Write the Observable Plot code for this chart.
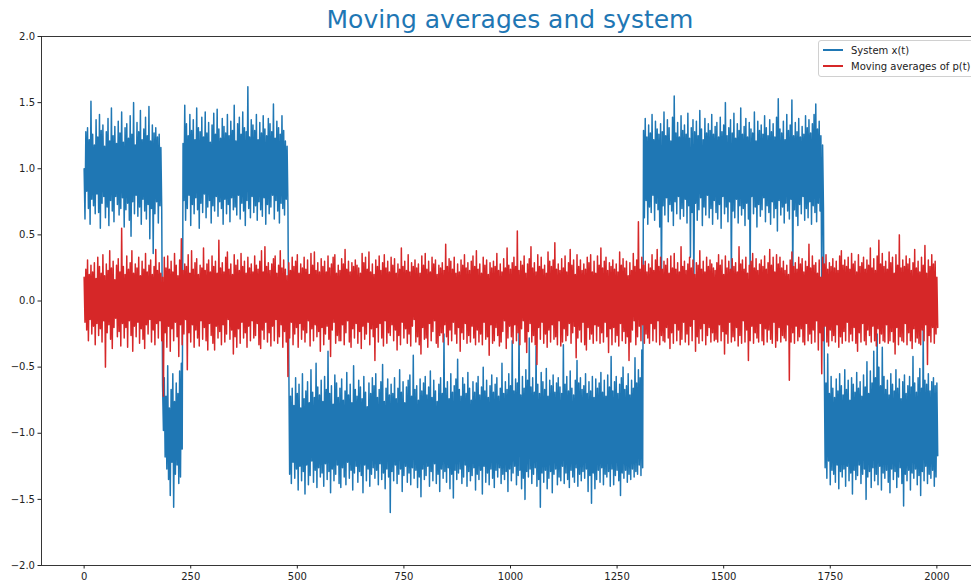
<!DOCTYPE html>
<html>
<head>
<meta charset="utf-8">
<script src="https://cdn.jsdelivr.net/npm/d3@7"></script>
<script src="https://cdn.jsdelivr.net/npm/@observablehq/plot@0.6"></script>
<style>
  html, body { margin: 0; padding: 0; background: #fff; overflow: hidden; }
  #wrap { position: relative; width: 971px; height: 587px; overflow: hidden; font-family: "DejaVu Sans", sans-serif; }
  #chart { position: absolute; left: 0; top: 0; width: 1000px; height: 587px; }
  #chart svg { max-width: none !important; width: 1000px !important; height: 587px !important; display: block; }
  #title { position: absolute; left: 0; width: 1020px; top: 5px; text-align: center; font-size: 25px; color: #1f77b4; line-height: 30px; }
  #legend { position: absolute; left: 818px; top: 40px; width: 170px; height: 35px; border: 1px solid #d0d0d0; border-radius: 3px; background: rgba(255,255,255,0.85); font-size: 10px; color: #222; }
  .row { position: absolute; left: 4px; height: 14px; display: flex; align-items: center; white-space: nowrap; }
  .sw { width: 20px; height: 1.5px; margin-right: 8px; }
</style>
</head>
<body>
<div id="wrap">
  <div id="chart"></div>
  <div id="title">Moving averages and system</div>
  <div id="legend"></div>
</div>
<script>
// Both signals are stored as the upper and lower extreme reached inside each
// window of `step` time units (windows start at t = 0, 4, 8, ..., 2000).
// Values are in hundredths.
const step = 4;

// System x(t): upper extreme per window
const systemHigh = [
  100, 128, 131, 122, 151, 126, 118, 137, 124, 141, 129, 133, 117, 128, 138, 121, 146, 125, 132, 119,
  136, 127, 143, 120, 131, 134, 123, 140, 126, 150, 118, 135, 128, 144, 122, 130, 139, 125, 147, 121,
  133, 127, 131, 124, 126, 116,
  -64, -58, -72, -49, -81, -67, -55, -76, -62, -70, -53, -47,
  119, 148, 134, 125, 141, 129, 137, 122, 146, 131, 128, 139, 124, 143, 127, 135, 120, 133, 142, 126,
  145, 130, 123, 138, 132, 127, 141, 125, 136, 129, 148, 121, 134, 139, 126, 143, 131, 128, 162, 124,
  137, 133, 129, 141, 122, 135, 127, 140, 130, 125, 138, 134, 128, 149, 123, 136, 131, 126, 140, 129,
  121, 117,
  -45, -72, -66, -79, -58, -70, -63, -81, -55, -74,
  -68, -61, -77, -52, -69, -73, -47, -65, -71, -60,
  -76, -57, -67, -38, -70, -64, -78, -56, -62, -73,
  -66, -59, -75, -68, -54, -71, -63, -77, -49, -67,
  -72, -60, -65, -74, -57, -69, -80, -62, -70, -58,
  -64, -55, -73, -67, -61, -48, -76, -66, -59, -71,
  -63, -70, -58, -74, -66, -52, -69, -61, -77, -65,
  -60, -56, -72, -41, -67, -64, -75, -59, -68, -62,
  -57, -71, -65, -53, -73, -60, -68, -76, -63, -58,
  -70, -25, -66, -61, -74, -55, -69, -64, -59, -44,
  -67, -72, -58, -63, -70, -54, -66, -75, -61, -69,
  -62, -57, -71, -65, -50, -68, -60, -73, -64, -56,
  -69, -63, -58, -72, -66, -47, -70, -61, -67, -55,
  -64, -30, -68, -59, -62, -17, -71, -57, -66, -52,
  -60, -28, -65, -58, -69, -34, -63, -70, -54, -61,
  -67, -51, -72, -60, -64, -56, -69, -62, -58, -65,
  -70, -33, -63, -57, -68, -53, -66, -71, -60, -45,
  -62, -58, -67, -64, -55, -70, -61, -68, -57, -73,
  -59, -66, -62, -54, -69, -60, -72, -56, -65, -42,
  -68, -61, -57, -70, -63, -58, -50, -67, -64, -55,
  -71, -60, -66, -43, -62, -52, -58, -37,
  129, 138, 124, 133, 127, 141, 122, 136, 130, 126,
  134, 128, 143, 125, 137, 131, 121, 139, 155, 127,
  135, 124, 140, 129, 133, 126, 142, 123, 131, 137,
  128, 136, 125, 144, 130, 122, 138, 127, 134, 129,
  141, 126, 132, 135, 124, 139, 128, 133, 150, 125,
  131, 137, 127, 142, 123, 134, 129, 146, 126, 132,
  138, 124, 135, 130, 127, 143, 121, 136, 129, 133,
  126, 140, 131, 125, 137, 128, 134, 124, 139, 153,
  130, 127, 136, 122, 141, 129, 133, 152, 125, 135,
  128, 138, 124, 132, 126, 140, 131, 137, 127, 134,
  141, 149, 130, 136, 125, 118,
  -48, -62, -40, -70, -57, -66, -73, -59, -68, -55,
  -64, -71, -52, -67, -60, -75, -58, -63, -69, -54,
  -66, -61, -72, -56, -65, -46, -70, -53, -62, -38,
  -58, -25, -50, -64, -35, -57, -67, -60, -71, -55,
  -63, -68, -52, -66, -59, -74, -61, -56, -70, -64,
  -57, -65, -42, -62, -69, -58, -51, -66, -22, -60,
  -63, -55, -68, -61, -58, -64, -62
];

// System x(t): lower extreme per window
const systemLow = [
  62, 83, 70, 58, 77, 72, 66, 81, 67, 55, 74, 79, 63, 71, 57, 76, 68, 60, 79, 73,
  65, 70, 78, 56, 69, 74, 61, 49, 75, 66, 80, 64, 71, 58, 77, 68, 62, 73, 47, 70,
  36, 66, 75, 59, 72, 69,
  -98, -118, -127, -135, -147, -122, -156, -131, -124, -138, -133, -112,
  76, 61, 70, 80, 57, 73, 66, 78, 69, 55, 74, 67, 81, 63, 71, 76, 59, 72, 68, 79,
  64, 75, 70, 58, 77, 66, 73, 60, 78, 69, 71, 65, 80, 62, 74, 68, 57, 76, 70, 63,
  79, 67, 72, 61, 75, 69, 64, 78, 58, 73, 66, 71, 80, 62, 76, 68, 59, 74, 70, 65,
  77, 72,
  -131, -138, -122, -134, -127, -143, -125, -136, -129, -146,
  -124, -139, -132, -121, -137, -128, -141, -126, -133, -130,
  -140, -123, -135, -129, -145, -127, -136, -131, -124, -138,
  -141, -126, -133, -139, -122, -134, -128, -143, -130, -125,
  -137, -129, -132, -145, -124, -136, -127, -140, -131, -126,
  -134, -128, -139, -123, -135, -130, -142, -127, -133, -160,
  -129, -136, -124, -138, -131, -127, -144, -132, -125, -137,
  -130, -139, -126, -134, -128, -141, -133, -148, -127, -135,
  -132, -125, -140, -129, -136, -123, -138, -131, -144, -127,
  -134, -129, -137, -126, -142, -131, -149, -128, -135, -130,
  -127, -138, -133, -124, -140, -129, -136, -132, -126, -143,
  -131, -135, -128, -146, -125, -137, -130, -139, -127, -134,
  -141, -128, -133, -126, -138, -131, -135, -129, -144, -127,
  -136, -130, -125, -139, -132, -128, -142, -134, -150, -129,
  -133, -127, -138, -131, -126, -140, -135, -156, -130, -137,
  -128, -142, -134, -129, -145, -131, -127, -139, -133, -136,
  -125, -138, -130, -135, -141, -128, -133, -137, -126, -140,
  -131, -136, -129, -134, -127, -144, -132, -153, -130, -142,
  -135, -128, -137, -126, -139, -131, -133, -129, -140, -127,
  -139, -132, -128, -136, -147, -130, -134, -128, -137, -131,
  -135, -127, -133, -129, -131, -124, -132, -126,
  63, 76, 58, 71, 67, 80, 61, 74, 69, 56,
  10, 72, 65, 78, 60, 73, 68, 57, 75, 66,
  79, 62, 70, 64, 77, 59, 72, 33, 67, 5,
  74, 61, 69, 78, 57, 71, 65, 80, 63, 70,
  58, 76, 67, 62, 73, 55, 79, 66, 71, 60,
  75, 15, 68, 63, 77, 59, 72, 65, 70, 57,
  74, 62, 18, 79, 66, 71, 56, 73, 64, 69,
  78, 60, 72, 67, 58, 75, 63, 70, 53, 76,
  65, 71, 59, 74, 68, 62, 77, 12, 69, 64,
  57, 73, 66, 79, 61, 70, 63, 75, 58, 72,
  67, 60, 74, 68, 5, 71,
  -126, -134, -121, -139, -128, -131, -137, -124, -142, -129,
  -133, -127, -140, -125, -136, -130, -146, -128, -135, -132,
  -124, -138, -131, -127, -150, -133, -129, -141, -126, -136,
  -131, -139, -125, -143, -130, -134, -128, -137, -145, -127,
  -135, -129, -141, -133, -126, -138, -155, -131, -136, -128,
  -143, -130, -134, -127, -139, -132, -147, -129, -136, -125,
  -138, -131, -134, -128, -140, -133, -117
];

// Moving averages of p(t): upper extreme per window
const avgHigh = [
  18, 24, 31, 20, 27, 22, 29, 17, 33, 26,
  21, 35, 19, 28, 23, 38, 25, 30, 16, 27,
  32, 22, 55, 26, 20, 34, 24, 29, 38, 21,
  28, 25, 33, 19, 30, 24, 36, 22, 27, 31,
  20, 26, 39, 23, 29, 21, 18, 33, 25, 34,
  24, 30, 22, 36, 27, 19, 31, 47, 23, 28,
  26, 35, 21, 38, 24, 29, 32, 20, 27, 25,
  40, 23, 28, 31, 22, 34, 26, 30, 21, 46,
  25, 29, 22, 33, 37, 24, 28, 20, 35, 27,
  31, 23, 36, 26, 30, 21, 33, 25, 28, 22,
  34, 27, 24, 30, 38, 22, 41, 26, 29, 23,
  28, 32, 34, 21, 27, 38, 25, 31, 24, 19,
  29, 23, 33, 26, 30, 35, 21, 28, 25, 33,
  24, 31, 20, 36, 27, 37, 23, 29, 22, 32,
  26, 30, 22, 34, 25, 28, 33, 35, 21, 27,
  23, 32, 28, 39, 24, 30, 22, 29, 26, 31,
  27, 25, 21, 36, 29, 33, 24, 37, 22, 28,
  20, 31, 26, 34, 23, 29, 35, 25, 30, 22,
  33, 27, 32, 21, 28, 24, 40, 26, 30, 23,
  35, 22, 29, 26, 31, 25, 28, 21, 34, 27,
  36, 24, 30, 22, 33, 28, 31, 20, 27, 25,
  29, 23, 43, 26, 32, 30, 24, 33, 21, 28,
  22, 31, 27, 35, 25, 29, 23, 30, 34, 26,
  38, 24, 28, 21, 33, 27, 31, 20, 29, 25,
  30, 26, 36, 23, 28, 22, 32, 25, 40, 27,
  24, 29, 33, 26, 53, 23, 30, 27, 34, 21,
  28, 32, 41, 25, 29, 22, 35, 26, 33, 24,
  27, 21, 37, 30, 26, 31, 44, 24, 28, 23,
  32, 25, 34, 22, 29, 39, 27, 31, 20, 35,
  26, 31, 23, 28, 24, 33, 29, 35, 22, 30,
  21, 34, 27, 40, 25, 30, 33, 23, 29, 26,
  31, 24, 28, 22, 37, 27, 32, 25, 30, 19,
  29, 23, 36, 26, 31, 60, 24, 33, 27, 30,
  22, 28, 25, 35, 23, 31, 39, 26, 33, 24,
  30, 27, 32, 21, 34, 25, 36, 24, 29, 22,
  41, 26, 30, 23, 28, 33, 25, 31, 20, 29,
  27, 38, 24, 30, 22, 33, 26, 31, 28, 25,
  23, 29, 35, 27, 31, 20, 34, 25, 30, 24,
  32, 26, 29, 22, 41, 28, 31, 24, 33, 21,
  27, 30, 36, 25, 32, 23, 28, 31, 26, 34,
  24, 29, 39, 27, 33, 22, 35, 28, 33, 25,
  30, 23, 27, 20, 31, 37, 26, 29, 24, 33,
  28, 32, 22, 30, 26, 43, 25, 34, 27, 29,
  21, 31, 18, 33, 28, 35, 24, 29, 26, 32,
  25, 30, 23, 34, 38, 27, 31, 26, 33, 24,
  36, 28, 30, 22, 35, 26, 29, 33, 24, 31,
  27, 40, 25, 32, 23, 34, 46, 28, 36, 26,
  30, 24, 37, 29, 33, 21, 35, 27, 50, 25,
  31, 26, 34, 28, 32, 23, 29, 39, 25, 30,
  22, 33, 27, 42, 21, 31, 26, 35, 28, 30,
  18
];

// Moving averages of p(t): lower extreme per window
const avgLow = [
  -16, -22, -30, -14, -25, -19, -33, -17, -26, -21,
  -31, -15, -50, -24, -18, -29, -36, -20, -13, -27,
  -23, -34, -17, -28, -20, -35, -15, -26, -38, -19,
  -27, -16, -32, -21, -29, -36, -18, -25, -14, -31,
  -22, -33, -17, -28, -15, -30, -72, -24, -35, -19,
  -38, -21, -30, -16, -27, -42, -18, -33, -25, -14,
  -52, -24, -31, -18, -35, -22, -28, -34, -15, -29,
  -20, -30, -37, -17, -26, -32, -37, -19, -28, -23,
  -33, -18, -31, -25, -14, -29, -22, -40, -27, -35,
  -21, -32, -16, -28, -24, -35, -19, -30, -15, -28,
  -26, -17, -33, -36, -22, -29, -16, -31, -24, -34,
  -19, -30, -14, -32, -27, -18, -35, -23, -31, -57,
  -28, -16, -33, -25, -20, -35, -17, -29, -22, -31,
  -24, -15, -34, -21, -30, -18, -27, -23, -38, -20,
  -33, -25, -19, -29, -42, -22, -16, -32, -26, -30,
  -30, -18, -33, -24, -15, -31, -35, -21, -28, -17,
  -32, -23, -36, -19, -29, -25, -16, -33, -21, -27,
  -45, -20, -31, -17, -28, -34, -15, -32, -24, -26,
  -18, -30, -22, -37, -26, -33, -16, -28, -21, -32,
  -25, -34, -19, -14, -31, -27, -33, -40, -20, -29,
  -28, -35, -17, -30, -23, -15, -32, -35, -26, -24,
  -31, -18, -27, -33, -22, -30, -16, -25, -32, -20,
  -38, -24, -29, -17, -32, -26, -31, -19, -28, -33,
  -22, -31, -25, -33, -16, -29, -27, -41, -18, -32,
  -30, -20, -26, -34, -31, -23, -15, -36, -28, -19,
  -27, -32, -18, -30, -24, -33, -21, -15, -31, -39,
  -23, -17, -31, -26, -33, -48, -20, -29, -16, -32,
  -25, -35, -22, -31, -18, -29, -27, -33, -15, -34,
  -31, -21, -30, -26, -17, -32, -24, -19, -43, -28,
  -22, -31, -16, -33, -37, -20, -29, -25, -32, -18,
  -30, -19, -32, -24, -31, -16, -27, -39, -21, -33,
  -20, -31, -26, -34, -17, -30, -23, -32, -27, -45,
  -31, -22, -15, -33, -27, -19, -30, -18, -32, -25,
  -28, -32, -17, -30, -21, -31, -15, -33, -26, -30,
  -31, -20, -28, -36, -24, -32, -17, -30, -22, -33,
  -29, -16, -31, -25, -33, -19, -30, -14, -38, -27,
  -32, -21, -30, -17, -33, -26, -20, -31, -24, -30,
  -29, -31, -18, -30, -23, -40, -25, -32, -16, -31,
  -27, -30, -20, -34, -26, -32, -15, -31, -22, -45,
  -30, -19, -32, -24, -28, -31, -17, -30, -33, -21,
  -31, -22, -29, -32, -16, -35, -30, -20, -31, -26,
  -28, -30, -18, -60, -31, -24, -32, -19, -30, -27,
  -21, -31, -33, -17, -30, -25, -32, -22, -31, -15,
  -37, -24, -55, -30, -19, -31, -34, -22, -30, -26,
  -31, -18, -35, -27, -32, -23, -30, -16, -31, -25,
  -30, -20, -32, -38, -24, -31, -17, -30, -33, -22,
  -26, -31, -19, -30, -34, -21, -32, -25, -30, -31,
  -18, -32, -30, -23, -31, -40, -20, -33, -27, -30,
  -31, -17, -33, -24, -30, -36, -21, -31, -28, -32,
  -33, -22, -30, -18, -48, -26, -31, -20, -32, -25,
  -20
];

// Axis ticks
const xTicks = [0, 250, 500, 750, 1000, 1250, 1500, 1750, 2000];
const yTicks = [-2.0, -1.5, -1.0, -0.5, 0.0, 0.5, 1.0, 1.5, 2.0];

// Series names and colours
const seriesNames = ["System x(t)", "Moving averages of p(t)"];
const seriesColors = ["#1f77b4", "#d62728"];

// Trace each window as upper extreme then lower extreme, half a window apart
function toRows(high, low) {
  const rows = [];
  high.forEach((h, k) => {
    rows.push({t: k * step, v: h / 100});
    rows.push({t: k * step + step / 2, v: low[k] / 100});
  });
  return rows;
}
const systemRows = toRows(systemHigh, systemLow);
const avgRows = toRows(avgHigh, avgLow);

const chart = Plot.plot({
  width: 1000,
  height: 587,
  marginTop: 36,
  marginBottom: 22,
  marginLeft: 41,
  marginRight: 21,
  style: {fontFamily: "DejaVu Sans, sans-serif", fontSize: "10px", color: "#222", background: "transparent"},
  x: {domain: [-100, 2100]},
  y: {domain: [-2, 2]},
  marks: [
    Plot.line(systemRows, {x: "t", y: "v", stroke: seriesColors[0], strokeWidth: 1.5, clip: true}),
    Plot.line(avgRows, {x: "t", y: "v", stroke: seriesColors[1], strokeWidth: 1.5, clip: true}),
    Plot.frame({stroke: "#222", strokeWidth: 0.9}),
    Plot.axisX({ticks: xTicks, tickFormat: (d) => String(d), tickSize: 3.5, tickPadding: 4, label: null, stroke: "#222"}),
    Plot.axisY({ticks: yTicks, tickFormat: d3.format(".1f"), tickSize: 3.5, tickPadding: 3, label: null, stroke: "#222"})
  ]
});
document.getElementById("chart").appendChild(chart);

// Legend entries
const legend = document.getElementById("legend");
seriesNames.forEach((name, i) => {
  const row = document.createElement("div");
  row.className = "row";
  row.style.top = (2 + i * 16) + "px";
  const sw = document.createElement("div");
  sw.className = "sw";
  sw.style.background = seriesColors[i];
  const label = document.createElement("span");
  label.textContent = name;
  row.appendChild(sw);
  row.appendChild(label);
  legend.appendChild(row);
});
</script>
</body>
</html>
